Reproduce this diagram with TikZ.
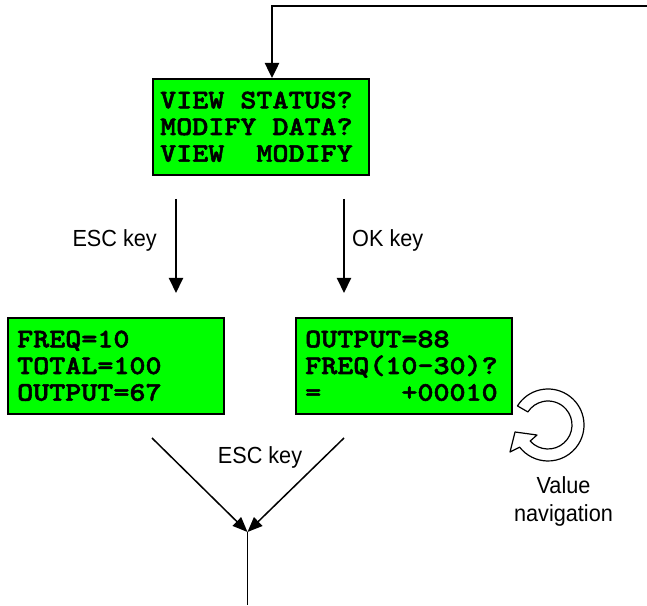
\documentclass[tikz,border=0pt]{standalone}
\usepackage{fontspec}
\newfontfamily\lcdfont{lmmonolt10-bold.otf}[FakeStretch=1.14,FakeBold=2]
\newfontfamily\lblfont{Liberation Sans}[FakeStretch=0.93]
\usetikzlibrary{arrows.meta,calc}
\definecolor{lcdgreen}{RGB}{0,255,0}
\tikzset{
  lcdbox/.style={draw=black, line width=2pt, fill=lcdgreen, minimum width=216pt,
    minimum height=96pt, inner sep=0pt, anchor=north west},
  lcdtext/.style={font=\lcdfont\fontsize{26.8}{26.7}\selectfont, inner sep=0pt, anchor=base west},
  lbl/.style={font=\lblfont\fontsize{23.3}{28.4}\selectfont, inner sep=0pt},
  arr/.style={-{Triangle[length=15pt,width=14pt]}, line width=2pt},
  arrthin/.style={-{Triangle[length=15pt,width=12pt]}, line width=1.5pt},
  navarrow/.style={draw=black, line width=1.2pt, fill=white, line join=round}
}
\begin{document}
\begin{tikzpicture}[x=1pt,y=1pt]
\useasboundingbox (0,0) rectangle (647,605);
% top box
\node[lcdbox] (menu) at (152,527) {};
\node[lcdtext] (menutxt) at (160,496.7) {\begin{tabular}[t]{@{}l@{}}VIEW STATUS?\\MODIFY DATA?\\VIEW\ \ MODIFY\end{tabular}};
% bottom boxes
\node[lcdbox] (stat) at (7,288) {};
\node[lcdtext] (stattxt) at (17,257.7) {\begin{tabular}[t]{@{}l@{}}FREQ=10\\TOTAL=100\\OUTPUT=67\end{tabular}};
\node[lcdbox] (edit) at (295,288) {};
\node[lcdtext] (edittxt) at (305,257.7) {\begin{tabular}[t]{@{}l@{}}OUTPUT=88\\FREQ(10-30)?\\=\ \ \ \ \ +00010\end{tabular}};
% loop back line
\coordinate (loopin) at (647,599);
\coordinate (bend) at (272,599);
\draw[arr, line width=2.5pt] (loopin) -- (bend) -- (bend |- menu.north);
% middle arrows
\draw[arr] ($(menu.south west)+(24,-23)$) -- ($(stat.north west)+(169,24)$);
\draw[arr] ($(menu.south west)+(192,-23)$) -- ($(edit.north west)+(49,24)$);
\node[lbl, anchor=base east] (esc1) at (157,358.3) {ESC key};
\node[lbl, anchor=base west] (ok) at (352,358.3) {OK key};
% bottom arrows
\coordinate (join) at (247.5,73);
\coordinate (exit) at (247.5,0);
\draw[arrthin] ($(stat.south west)+(145,-23)$) -- (join);
\draw[arrthin] ($(edit.south west)+(49,-23)$) -- (join);
\draw[line width=1.5pt] (join) -- (exit);
\node[lbl, anchor=base] (esc2) at (260,142) {ESC key};
% value navigation circular arrow
\coordinate (nav) at (548,180);
\draw[navarrow] ($(nav)+(148:36)$) arc[start angle=148, end angle=-142, radius=36]
  -- (510,153) -- (515,173) -- (537,170) -- ($(nav)+(-138:24)$)
  arc[start angle=-138, end angle=147, radius=24] -- cycle;
\node[lbl, anchor=base] (valnav) at (563.5,111.7) {\begin{tabular}[t]{@{}c@{}}Value\\navigation\end{tabular}};
\end{tikzpicture}
\end{document}
